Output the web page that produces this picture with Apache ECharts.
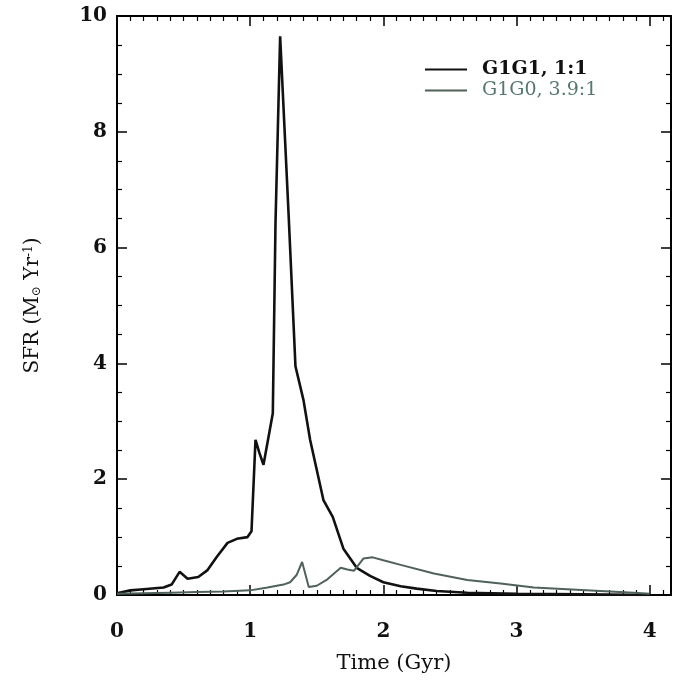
<!DOCTYPE html>
<html>
<head>
    <meta charset="utf-8">
    <script src="https://cdn.jsdelivr.net/npm/echarts@6/dist/echarts.min.js"></script>
    <style>
        *{ margin:0; padding:0; }
        body{ background:#fff; }
    </style>
</head>
<body>
    <div id="main" style="width:677px;height:682px;"></div>
    <script type="text/javascript">

    // G1G1, 1:1 merger
    var timeG1G1 = [0, 0.1, 0.2, 0.35, 0.41, 0.47, 0.53, 0.61, 0.68, 0.75, 0.83, 0.9, 0.98, 1.01, 1.04, 1.07, 1.10, 1.17, 1.19, 1.225, 1.29, 1.34, 1.40, 1.45, 1.55, 1.62, 1.70, 1.80, 1.90, 2.0, 2.13, 2.25, 2.4, 2.63, 3.0, 3.5, 4.0];
    var sfrG1G1  = [0.03, 0.08, 0.1, 0.13, 0.18, 0.4, 0.28, 0.31, 0.43, 0.66, 0.9, 0.97, 1.0, 1.1, 2.68, 2.45, 2.25, 3.14, 6.4, 9.65, 6.5, 3.95, 3.37, 2.68, 1.64, 1.35, 0.8, 0.47, 0.33, 0.22, 0.15, 0.11, 0.07, 0.04, 0.02, 0.01, 0];

    // G1G0, 3.9:1 merger
    var timeG1G0 = [0, 0.2, 0.4, 0.6, 0.8, 1.0, 1.13, 1.25, 1.30, 1.35, 1.39, 1.44, 1.50, 1.58, 1.68, 1.73, 1.78, 1.85, 1.92, 2.0, 2.13, 2.38, 2.63, 2.88, 3.13, 3.38, 3.63, 3.88, 4.0];
    var sfrG1G0  = [0.02, 0.03, 0.04, 0.05, 0.06, 0.08, 0.13, 0.18, 0.22, 0.35, 0.57, 0.14, 0.16, 0.27, 0.47, 0.44, 0.42, 0.63, 0.65, 0.6, 0.52, 0.37, 0.26, 0.2, 0.13, 0.1, 0.07, 0.04, 0.02];

    var xTicks = [0, 1, 2, 3, 4];
    var yTicks = [0, 2, 4, 6, 8, 10];

    function pairs(xs, ys) {
        return xs.map(function (x, i) { return [x, ys[i]]; });
    }

    var font = 'DejaVu Serif';
    var greenGrey = '#4f6259';

    var frameX = {
        type: 'value', min: 0, max: 4.16, interval: 1,
        axisLine: { show: true, onZero: false, lineStyle: { color: '#000', width: 2 } },
        axisTick: { show: true, inside: true, length: 10, lineStyle: { color: '#000', width: 1.5 } },
        minorTick: { show: true, splitNumber: 10, length: 5, lineStyle: { color: '#000', width: 1.2 } },
        splitLine: { show: false },
        axisLabel: { show: false }
    };
    var frameY = {
        type: 'value', min: 0, max: 10, interval: 2,
        axisLine: { show: true, onZero: false, lineStyle: { color: '#000', width: 2 } },
        axisTick: { show: true, inside: true, length: 10, lineStyle: { color: '#000', width: 1.5 } },
        minorTick: { show: true, splitNumber: 4, length: 5, lineStyle: { color: '#000', width: 1.2 } },
        splitLine: { show: false },
        axisLabel: { show: false }
    };

    var myChart = echarts.init(document.getElementById('main'));

    myChart.setOption({
        backgroundColor: '#fff',
        animation: false,
        grid: { left: 117, right: 6, top: 16, bottom: 87 },
        legend: {
            left: 420, top: 55,
            orient: 'vertical',
            icon: 'rect',
            itemWidth: 42, itemHeight: 2, itemGap: 2,
            textStyle: { fontFamily: font, fontSize: 19, color: '#111', padding: [0, 0, 0, 10] },
            data: [
                { name: 'G1G1, 1:1', textStyle: { color: '#111', fontWeight: 'bold' } },
                { name: 'G1G0, 3.9:1', textStyle: { color: '#55786b' } }
            ]
        },
        xAxis: [
            Object.assign({}, frameX, {
                position: 'bottom',
                name: 'Time (Gyr)',
                nameLocation: 'middle',
                nameGap: 58,
                nameTextStyle: { fontFamily: font, fontSize: 21, color: '#111' },
                axisLabel: {
                    show: true, margin: 27, fontFamily: font, fontSize: 20, fontWeight: 'bold', color: '#111',
                    customValues: xTicks
                }
            }),
            Object.assign({}, frameX, { position: 'top' })
        ],
        yAxis: [
            Object.assign({}, frameY, {
                position: 'left',
                name: 'SFR (M{sub|⊙} Yr{sup|-1})',
                nameLocation: 'middle',
                nameGap: 74,
                nameTextStyle: {
                    fontFamily: font, fontSize: 20, color: '#111',
                    rich: {
                        sub: { fontFamily: font, fontSize: 12, color: '#111', verticalAlign: 'bottom', padding: [8, 0, 0, 0] },
                        sup: { fontFamily: font, fontSize: 12, color: '#111', verticalAlign: 'top', padding: [0, 0, 8, 0] }
                    }
                },
                axisLabel: {
                    show: true, margin: 10, fontFamily: font, fontSize: 20, fontWeight: 'bold', color: '#111',
                    customValues: yTicks
                }
            }),
            Object.assign({}, frameY, { position: 'right' })
        ],
        series: [
            {
                name: 'G1G1, 1:1',
                type: 'line',
                symbol: 'none',
                xAxisIndex: 0, yAxisIndex: 0,
                lineStyle: { color: '#111', width: 2.6 },
                itemStyle: { color: '#111' },
                data: pairs(timeG1G1, sfrG1G1)
            },
            {
                name: 'G1G0, 3.9:1',
                type: 'line',
                symbol: 'none',
                xAxisIndex: 0, yAxisIndex: 0,
                lineStyle: { color: greenGrey, width: 2 },
                itemStyle: { color: greenGrey },
                data: pairs(timeG1G0, sfrG1G0)
            }
        ]
    });
</script>
</body>
</html>
